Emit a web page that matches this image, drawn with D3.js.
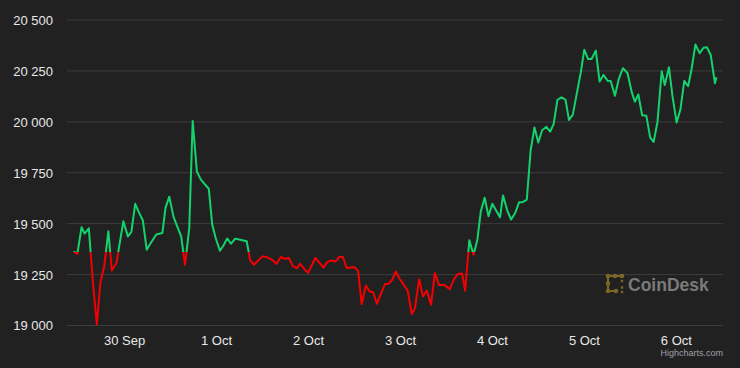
<!DOCTYPE html>
<html>
<head>
<meta charset="utf-8">
<script src="https://cdn.jsdelivr.net/npm/d3@7"></script>
<style>
  html, body { margin: 0; padding: 0; background: #212121; }
  svg { display: block; }
  text { font-family: "Liberation Sans", Arial, Helvetica, sans-serif; }
</style>
</head>
<body>
<svg id="chart" width="740" height="368"></svg>
<script>
// ---- data (hours after 30 Sep 2022 00:00, BTC price in USD) ----
const hoursFrom30Sep = [
  -13.2, -12.2, -11.1, -10.3, -9.2, -8.2, -7.1, -6.2, -5.2, -4.1, -3.2, -2.0, -0.2, 1.0, 1.9, 2.9, 3.9, 4.9, 5.9, 7.0,
  8.4, 10.0, 10.8, 11.8, 12.9, 13.9, 14.9, 15.9, 17.0, 17.9, 19.0, 20.0, 21.1, 22.1, 23.0, 23.9, 25.0, 25.9, 26.9, 27.9,
  29.0, 30.3, 32.0, 32.9, 33.9, 35.0, 36.2, 37.4, 38.6, 39.8, 40.9, 41.9, 43.0, 44.0, 45.1, 45.9, 47.0, 48.0, 49.9, 50.9,
  52.0, 53.0, 54.1, 55.1, 56.2, 57.1, 58.1, 59.6, 60.3, 61.1, 62.0, 63.1, 64.1, 65.0, 66.0, 67.0, 68.1, 69.0, 70.0, 70.9,
  71.9, 73.0, 74.0, 75.1, 75.9, 77.0, 78.0, 79.0, 80.1, 81.1, 82.2, 83.6, 85.0, 86.1, 87.1, 88.2, 89.0, 90.1, 91.2, 92.2,
  93.1, 94.1, 95.1, 96.1, 97.2, 98.1, 98.9, 100.0, 101.0, 102.1, 103.1, 104.0, 105.1, 106.1, 107.1, 108.1, 109.1, 110.2, 111.2, 112.1,
  113.1, 114.2, 115.2, 116.1, 117.1, 118.2, 119.2, 120.1, 121.1, 122.0, 123.1, 124.1, 125.1, 126.2, 127.0, 128.1, 129.1, 130.2, 131.4, 132.5,
  133.3, 134.2, 135.2, 136.3, 137.3, 138.2, 139.2, 140.3, 141.1, 142.2, 143.1, 144.2, 145.2, 146.2, 147.2, 148.1, 149.1, 150.2, 151.2, 152.1,
  153.1, 154.2, 154.6
];
const prices = [
  19361, 19349, 19480, 19449, 19475, 19222, 19003, 19206, 19287, 19460, 19268, 19304, 19509, 19435, 19457, 19595, 19552, 19513, 19370, 19404,
  19444, 19452, 19575, 19630, 19531, 19482, 19435, 19296, 19473, 20002, 19753, 19715, 19690, 19669, 19493, 19427, 19365, 19389, 19425, 19399,
  19424, 19419, 19411, 19317, 19296, 19317, 19337, 19332, 19320, 19299, 19334, 19325, 19329, 19291, 19278, 19301, 19275, 19256, 19329, 19307,
  19282, 19309, 19317, 19311, 19334, 19334, 19280, 19284, 19282, 19263, 19102, 19194, 19164, 19161, 19104, 19153, 19201, 19202, 19222, 19263,
  19227, 19197, 19169, 19054, 19082, 19225, 19140, 19169, 19100, 19255, 19196, 19196, 19176, 19225, 19250, 19253, 19169, 19416, 19345, 19419,
  19559, 19625, 19534, 19595, 19559, 19529, 19636, 19562, 19518, 19551, 19603, 19603, 19616, 19858, 19970, 19896, 19956, 19973, 19950, 19986,
  20106, 20118, 20106, 20007, 20032, 20142, 20241, 20352, 20306, 20306, 20347, 20195, 20228, 20199, 20198, 20126, 20208, 20261, 20236, 20142,
  20096, 20132, 20030, 20027, 19920, 19899, 19997, 20246, 20178, 20266, 20126, 19994, 20060, 20199, 20172, 20257, 20377, 20335, 20361, 20364,
  20326, 20187, 20216
];
const zoneThreshold = 19359;              // colour switches red/green at the opening price
const yTickValues = [19000, 19250, 19500, 19750, 20000, 20250, 20500];
const xTickDays = ["2022-09-30", "2022-10-01", "2022-10-02", "2022-10-03", "2022-10-04", "2022-10-05", "2022-10-06"];
const xTickLabels = ["30 Sep", "1 Oct", "2 Oct", "3 Oct", "4 Oct", "5 Oct", "6 Oct"];

// ---- layout ----
const W = 740, H = 368;
const plot = { left: 67, right: 723, top: 19.5, bottom: 325 };
const base = Date.UTC(2022, 8, 30);
const toDate = h => new Date(base + h * 3600e3);
const parseDay = s => { const [y, m, d] = s.split("-").map(Number); return new Date(Date.UTC(y, m - 1, d)); };

const data = hoursFrom30Sep.map((h, i) => ({ t: toDate(h), v: prices[i] }));

const x = d3.scaleUtc()
  .domain([toDate(hoursFrom30Sep[0] - 1.7), toDate(hoursFrom30Sep[hoursFrom30Sep.length - 1] + 1.7)])
  .range([plot.left, plot.right]);
const y = d3.scaleLinear()
  .domain([19000, 20500])
  .range([plot.bottom, plot.top]);

const svg = d3.select("#chart");
svg.append("rect").attr("width", W).attr("height", H).attr("fill", "#212121");

// y axis with gridlines
const fmt = v => d3.format(",")(v).replace(/,/g, " ");
const yAxis = svg.append("g")
  .attr("transform", `translate(${plot.left},0)`)
  .call(d3.axisLeft(y).tickValues(yTickValues).tickFormat(fmt)
    .tickSizeInner(-(plot.right - plot.left)).tickSizeOuter(0).tickPadding(14));
yAxis.select(".domain").remove();
yAxis.selectAll(".tick line").attr("stroke", "#3d3d3d").attr("stroke-width", 1);
yAxis.selectAll(".tick text").attr("fill", "#e8e8e8").attr("font-size", 13).attr("dy", "0.38em");

// x axis
const xAxis = svg.append("g")
  .attr("transform", `translate(0,${plot.bottom})`)
  .call(d3.axisBottom(x).tickValues(xTickDays.map(parseDay))
    .tickFormat((d, i) => xTickLabels[i]).tickSize(0).tickPadding(11));
xAxis.select(".domain").remove();
xAxis.selectAll(".tick text").attr("fill", "#e8e8e8").attr("font-size", 13);

// zones via clip paths
const defs = svg.append("defs");
const yT = y(zoneThreshold);
defs.append("clipPath").attr("id", "clipUp")
  .append("rect").attr("x", 0).attr("y", 0).attr("width", W).attr("height", yT);
defs.append("clipPath").attr("id", "clipDown")
  .append("rect").attr("x", 0).attr("y", yT).attr("width", W).attr("height", H - yT);

const line = d3.line().x(d => x(d.t)).y(d => y(d.v));
svg.append("path").datum(data).attr("d", line)
  .attr("fill", "none").attr("stroke", "#14d36c").attr("stroke-width", 2)
  .attr("stroke-linejoin", "round").attr("clip-path", "url(#clipUp)");
svg.append("path").datum(data).attr("d", line)
  .attr("fill", "none").attr("stroke", "#f40000").attr("stroke-width", 2)
  .attr("stroke-linejoin", "round").attr("clip-path", "url(#clipDown)");

// CoinDesk watermark
const logo = svg.append("g").attr("opacity", 0.85);
const gold = "#8e7225";
logo.append("path")
  .attr("d", "M608,276 H622 M608,276 V291 M608,291 H616")
  .attr("stroke", gold).attr("stroke-width", 2.2).attr("fill", "none");
[[608,276],[615,276],[622,276],[608,283.5],[608,291],[616,291]].forEach(([cx, cy]) =>
  logo.append("circle").attr("cx", cx).attr("cy", cy).attr("r", 2.3).attr("fill", gold));
[[622,281],[622,287.5],[622,292]].forEach(([cx, cy]) =>
  logo.append("rect").attr("x", cx - 1.2).attr("y", cy - 1.2).attr("width", 2.4).attr("height", 2.4).attr("fill", gold));
logo.append("text").attr("x", 628).attr("y", 291)
  .attr("font-size", 17.5).attr("font-weight", "bold").attr("fill", "#8a8a8a")
  .text("CoinDesk");

// credits
svg.append("text").attr("x", 723).attr("y", 356).attr("text-anchor", "end")
  .attr("font-size", 9).attr("fill", "#a0a0a8").text("Highcharts.com");
</script>
</body>
</html>
